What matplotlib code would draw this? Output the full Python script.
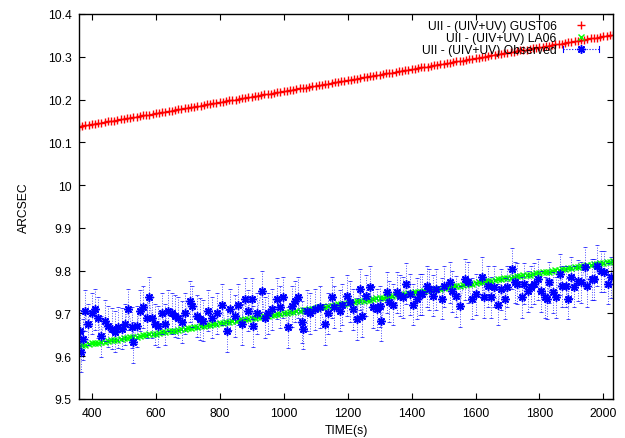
import numpy as np
import matplotlib
matplotlib.use("Agg")
import matplotlib.pyplot as plt
from matplotlib.lines import Line2D
from matplotlib.legend_handler import HandlerBase

plt.rcParams['font.family'] = ['Liberation Sans', 'DejaVu Sans']

# ---------------- data ----------------
# model curves sampled every 10 s from 360 s to 2030 s
MODEL_T = np.arange(360, 2031, 10)

GUST06 = [
    10.137, 10.138, 10.140, 10.141, 10.142, 10.143, 10.145, 10.146, 10.147, 10.149,
    10.150, 10.151, 10.152, 10.154, 10.155, 10.156, 10.158, 10.159, 10.160, 10.162,
    10.163, 10.164, 10.165, 10.167, 10.168, 10.169, 10.170, 10.172, 10.173, 10.174,
    10.176, 10.177, 10.178, 10.180, 10.181, 10.182, 10.183, 10.185, 10.186, 10.187,
    10.189, 10.190, 10.191, 10.192, 10.194, 10.195, 10.196, 10.198, 10.199, 10.200,
    10.201, 10.203, 10.204, 10.205, 10.207, 10.208, 10.209, 10.210, 10.212, 10.213,
    10.214, 10.216, 10.217, 10.218, 10.219, 10.221, 10.222, 10.223, 10.225, 10.226,
    10.227, 10.228, 10.230, 10.231, 10.232, 10.234, 10.235, 10.236, 10.237, 10.239,
    10.240, 10.241, 10.243, 10.244, 10.245, 10.246, 10.248, 10.249, 10.250, 10.252,
    10.253, 10.254, 10.255, 10.257, 10.258, 10.259, 10.261, 10.262, 10.263, 10.264,
    10.266, 10.267, 10.268, 10.270, 10.271, 10.272, 10.273, 10.275, 10.276, 10.277,
    10.279, 10.280, 10.281, 10.282, 10.284, 10.285, 10.286, 10.288, 10.289, 10.290,
    10.291, 10.293, 10.294, 10.295, 10.297, 10.298, 10.299, 10.300, 10.302, 10.303,
    10.304, 10.306, 10.307, 10.308, 10.309, 10.311, 10.312, 10.313, 10.315, 10.316,
    10.317, 10.318, 10.320, 10.321, 10.322, 10.324, 10.325, 10.326, 10.327, 10.329,
    10.330, 10.331, 10.333, 10.334, 10.335, 10.336, 10.338, 10.339, 10.340, 10.342,
    10.343, 10.344, 10.345, 10.347, 10.348, 10.349, 10.351, 10.352,
]

LA06 = [
    9.625, 9.626, 9.627, 9.629, 9.630, 9.631, 9.632, 9.633, 9.634, 9.636,
    9.637, 9.638, 9.639, 9.640, 9.642, 9.643, 9.644, 9.645, 9.646, 9.647,
    9.649, 9.650, 9.651, 9.652, 9.653, 9.655, 9.656, 9.657, 9.658, 9.659,
    9.660, 9.662, 9.663, 9.664, 9.665, 9.666, 9.668, 9.669, 9.670, 9.671,
    9.672, 9.673, 9.675, 9.676, 9.677, 9.678, 9.679, 9.681, 9.682, 9.683,
    9.684, 9.685, 9.686, 9.688, 9.689, 9.690, 9.691, 9.692, 9.693, 9.695,
    9.696, 9.697, 9.698, 9.699, 9.701, 9.702, 9.703, 9.704, 9.705, 9.706,
    9.708, 9.709, 9.710, 9.711, 9.712, 9.714, 9.715, 9.716, 9.717, 9.718,
    9.719, 9.721, 9.722, 9.723, 9.724, 9.725, 9.727, 9.728, 9.729, 9.730,
    9.731, 9.732, 9.734, 9.735, 9.736, 9.737, 9.738, 9.740, 9.741, 9.742,
    9.743, 9.744, 9.745, 9.747, 9.748, 9.749, 9.750, 9.751, 9.752, 9.754,
    9.755, 9.756, 9.757, 9.758, 9.760, 9.761, 9.762, 9.763, 9.764, 9.765,
    9.767, 9.768, 9.769, 9.770, 9.771, 9.773, 9.774, 9.775, 9.776, 9.777,
    9.778, 9.780, 9.781, 9.782, 9.783, 9.784, 9.786, 9.787, 9.788, 9.789,
    9.790, 9.791, 9.793, 9.794, 9.795, 9.796, 9.797, 9.798, 9.800, 9.801,
    9.802, 9.803, 9.804, 9.806, 9.807, 9.808, 9.809, 9.810, 9.811, 9.813,
    9.814, 9.815, 9.816, 9.817, 9.819, 9.820, 9.821, 9.822,
]

OBS_T = [
    362, 365, 372, 378, 388, 400, 409, 419, 428, 441, 450, 463, 472, 481, 494,
    503, 513, 525, 528, 541, 550, 559, 572, 578, 588, 597, 606, 619, 628, 638,
    650, 659, 669, 681, 691, 706, 713, 728, 738, 747, 763, 775, 791, 806, 822,
    831, 847, 856, 869, 878, 888, 900, 903, 916, 931, 941, 950, 963, 978, 988,
    997, 1013, 1025, 1034, 1044, 1056, 1059, 1072, 1081, 1097, 1113, 1128, 1138,
    1150, 1159, 1175, 1184, 1197, 1206, 1216, 1228, 1238, 1244, 1259, 1269, 1278,
    1291, 1300, 1306, 1322, 1331, 1341, 1353, 1363, 1372, 1384, 1394, 1403, 1416,
    1425, 1434, 1447, 1456, 1466, 1478, 1494, 1503, 1519, 1525, 1538, 1550, 1566,
    1575, 1588, 1603, 1619, 1628, 1638, 1650, 1659, 1669, 1681, 1691, 1700, 1713,
    1722, 1731, 1744, 1753, 1763, 1775, 1784, 1794, 1806, 1816, 1825, 1831, 1841,
    1853, 1863, 1872, 1884, 1888, 1900, 1909, 1919, 1931, 1941, 1950, 1963, 1972,
    1981, 1994, 2003, 2013, 2025,
]

OBS_V = [
    9.660, 9.610, 9.640, 9.706, 9.675, 9.700, 9.710, 9.690, 9.647, 9.683, 9.670,
    9.664, 9.657, 9.668, 9.664, 9.675, 9.710, 9.668, 9.633, 9.670, 9.706, 9.715,
    9.690, 9.738, 9.690, 9.675, 9.670, 9.700, 9.675, 9.706, 9.700, 9.694, 9.690,
    9.680, 9.700, 9.729, 9.717, 9.694, 9.687, 9.683, 9.706, 9.690, 9.700, 9.720,
    9.659, 9.710, 9.694, 9.720, 9.675, 9.734, 9.706, 9.734, 9.670, 9.700, 9.752,
    9.690, 9.700, 9.710, 9.734, 9.715, 9.738, 9.668, 9.717, 9.729, 9.738, 9.680,
    9.664, 9.706, 9.700, 9.710, 9.715, 9.675, 9.700, 9.738, 9.715, 9.706, 9.720,
    9.741, 9.727, 9.710, 9.687, 9.757, 9.694, 9.741, 9.762, 9.715, 9.710, 9.717,
    9.683, 9.750, 9.727, 9.720, 9.750, 9.741, 9.738, 9.769, 9.745, 9.720, 9.734,
    9.745, 9.745, 9.764, 9.757, 9.741, 9.757, 9.734, 9.764, 9.773, 9.752, 9.740,
    9.717, 9.780, 9.773, 9.734, 9.745, 9.785, 9.738, 9.764, 9.738, 9.762, 9.720,
    9.757, 9.734, 9.762, 9.804, 9.773, 9.769, 9.738, 9.769, 9.752, 9.762, 9.769,
    9.780, 9.752, 9.738, 9.734, 9.773, 9.750, 9.738, 9.792, 9.764, 9.764, 9.734,
    9.785, 9.762, 9.776, 9.773, 9.808, 9.764, 9.780, 9.780, 9.811, 9.799, 9.797,
    9.769, 9.785,
]
OBS_ERR = 0.048

X_TICKS = [400, 600, 800, 1000, 1200, 1400, 1600, 1800, 2000]
Y_TICKS = [9.5, 9.6, 9.7, 9.8, 9.9, 10.0, 10.1, 10.2, 10.3, 10.4]
Y_TICK_LABELS = ["9.5", "9.6", "9.7", "9.8", "9.9", "10", "10.1", "10.2", "10.3", "10.4"]

LABELS = ["UII - (UIV+UV) GUST06", "UII - (UIV+UV) LA06", "UII - (UIV+UV) Observed"]

# ---------------- plot ----------------
FS = 8.7
fig = plt.figure(figsize=(6.25, 4.39), dpi=100)
ax = fig.add_axes([79/625, 1 - 400/439, (613 - 79)/625, (400 - 15)/439])

STAR = (8, 2, 0)
DOT = (0, (1, 1.6))
BLUE = '#0000ff'

h1, = ax.plot(MODEL_T, GUST06, ls='none', marker='+', ms=5.8, mew=1.0,
              color='#ff0000', label=LABELS[0])
h2, = ax.plot(MODEL_T, LA06, ls='none', marker='x', ms=4.5, mew=1.0,
              color='#00ff00', label=LABELS[1])
eb = ax.errorbar(OBS_T, OBS_V, yerr=OBS_ERR, fmt='none', ecolor=BLUE,
                 elinewidth=0.7, capsize=1.3, capthick=0.7, alpha=0.7)
for lc in eb.lines[2]:
    lc.set_linestyle(DOT)
ax.plot(OBS_T, OBS_V, ls=DOT, lw=0.7, color=BLUE, alpha=0.7)
ax.plot(OBS_T, OBS_V, ls='none', marker=STAR, ms=6, mew=1.1, color=BLUE)

ax.set_xlim(360, 2030)
ax.set_ylim(9.5, 10.4)
ax.set_xticks(X_TICKS)
ax.set_xticklabels([str(v) for v in X_TICKS])
ax.set_yticks(Y_TICKS)
ax.set_yticklabels(Y_TICK_LABELS)
ax.tick_params(direction='in', length=4, width=0.8, top=True, right=True,
               labelsize=FS, pad=5.5, colors='black')
for s in ax.spines.values():
    s.set_linewidth(1.0)
ax.set_xlabel("TIME(s)", fontsize=FS, labelpad=4)
ax.set_ylabel("ARCSEC", fontsize=FS, labelpad=12.5)


class HandlerObs(HandlerBase):
    def create_artists(self, legend, orig_handle, xdescent, ydescent, width,
                       height, fontsize, trans):
        y = height / 2 - ydescent
        x0 = -xdescent
        x1 = -xdescent + width
        arts = [
            Line2D([x0, x1], [y, y], color=BLUE, lw=0.8, ls=DOT),
            Line2D([x0, x0], [y - 2.0, y + 2.0], color=BLUE, lw=0.8),
            Line2D([x1, x1], [y - 2.0, y + 2.0], color=BLUE, lw=0.8),
            Line2D([(x0 + x1) / 2], [y], color=BLUE, marker=STAR, ms=6,
                   mew=1.1, ls='none'),
        ]
        for a in arts:
            a.set_transform(trans)
        return arts


obs_handle = Line2D([], [], color=BLUE)
leg = ax.legend([h1, h2, obs_handle], LABELS, loc='upper right',
                bbox_to_anchor=((599 - 79) / (613 - 79), 1 - 6 / 385),
                frameon=False, markerfirst=False, fontsize=FS,
                borderpad=0, borderaxespad=0, handlelength=3.0,
                handletextpad=0.5, labelspacing=0.0,
                handler_map={obs_handle: HandlerObs()})

fig.savefig("out.png", dpi=100)
